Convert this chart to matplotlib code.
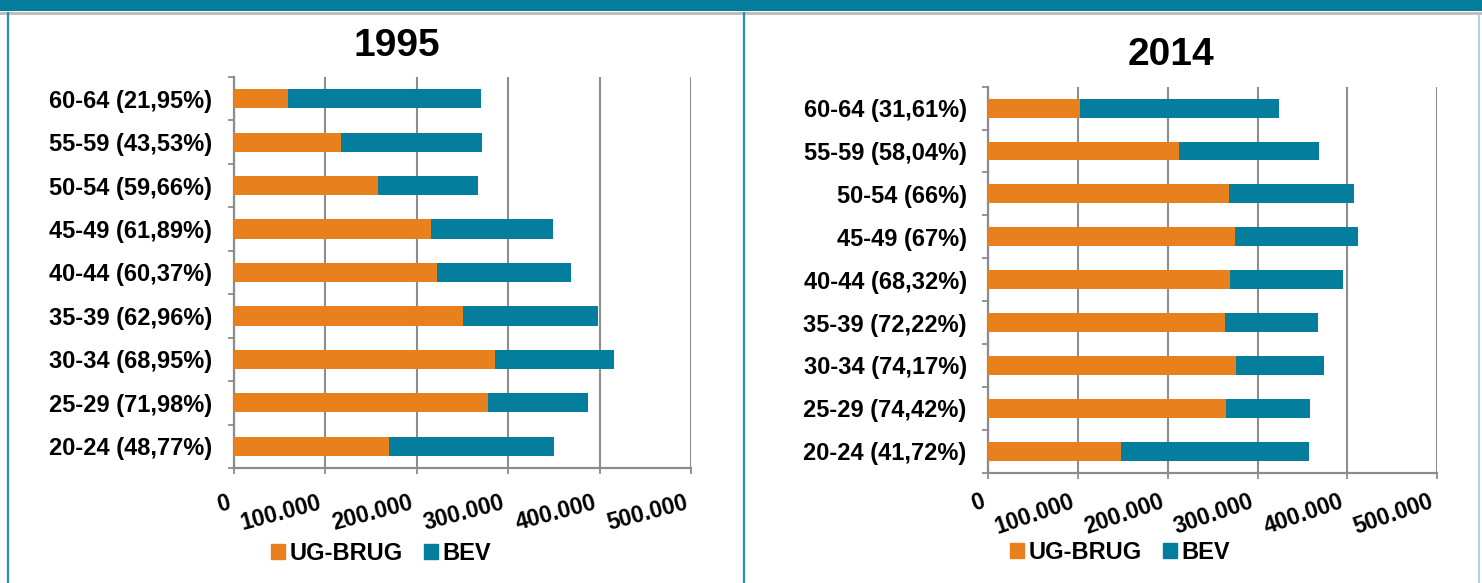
import matplotlib
matplotlib.use('Agg')
import numpy as np
import matplotlib.pyplot as plt
from matplotlib.patches import Rectangle, Patch
from matplotlib.lines import Line2D
from matplotlib.transforms import offset_copy

plt.rcParams['font.family'] = ['Liberation Sans', 'DejaVu Sans']
plt.rcParams['font.weight'] = 'bold'

# ---------------- data ----------------
age_groups = ['20-24', '25-29', '30-34', '35-39', '40-44', '45-49', '50-54', '55-59', '60-64']
pct_1995 = ['48,77%', '71,98%', '68,95%', '62,96%', '60,37%', '61,89%', '59,66%', '43,53%', '21,95%']
pct_2014 = ['41,72%', '74,42%', '74,17%', '72,22%', '68,32%', '67%', '66%', '58,04%', '31,61%']
ug_1995 = [170000, 278000, 285000, 250000, 222000, 215000, 158000, 117000, 59000]
bev_1995 = [180000, 109000, 130000, 148000, 147000, 134000, 109000, 154000, 211000]
ug_2014 = [148000, 265000, 276000, 264000, 269000, 275000, 268000, 213000, 102000]
bev_2014 = [209000, 93000, 98000, 103000, 126000, 137000, 140000, 156000, 222000]
x_ticks = [0, 100000, 200000, 300000, 400000, 500000]
x_tick_labels = ['0', '100.000', '200.000', '300.000', '400.000', '500.000']
series_names = ['UG-BRUG', 'BEV']
titles = ['1995', '2014']

ORANGE = '#E8801E'
TEAL = '#057E9E'
GRAY = '#8C8C8C'

W, H = 1482, 583
fig = plt.figure(figsize=(W / 100, H / 100), dpi=100)
fig.patch.set_facecolor('white')

# background frame
bg = fig.add_axes([0, 0, 1, 1], zorder=-10)
bg.set_xlim(0, W)
bg.set_ylim(H, 0)
bg.axis('off')
bg.add_patch(Rectangle((0, 0), W, 11, color=TEAL, lw=0))
bg.add_line(Line2D([0, W], [12.5, 12.5], color='#BBBBBB', lw=2))
bg.add_line(Line2D([8, 8], [13, H], color='#2A8DAA', lw=1.6))
bg.add_line(Line2D([743.5, 743.5], [13, H], color='#2A8DAA', lw=1.6))
bg.add_line(Line2D([1479, 1479], [13, H], color='#9FCBD8', lw=1.2))


def px2fig(x0, x1, ytop, ybot):
    return [x0 / W, 1 - ybot / H, (x1 - x0) / W, (ybot - ytop) / H]


def draw_panel(rect, labels, ug, bev, title, title_xy, rot, dx, dy, leg_xy):
    ax = fig.add_axes(px2fig(*rect))
    y = np.arange(len(labels))
    ax.barh(y, ug, height=0.44, color=ORANGE, lw=0, zorder=3)
    ax.barh(y, bev, left=ug, height=0.44, color=TEAL, lw=0, zorder=3)
    ax.set_xlim(0, 500000)
    ax.set_ylim(-0.5, len(labels) - 0.5)
    ax.set_yticks(y)
    ax.set_yticklabels(labels, fontsize=17, fontweight='bold', color='black')
    ax.set_yticks(np.arange(-0.5, len(labels), 1.0), minor=True)
    ax.tick_params(axis='y', which='major', length=0, pad=15.6)
    ax.tick_params(axis='y', which='minor', length=4.5, width=1.3, color=GRAY, direction='out')
    ax.set_xticks(x_ticks)
    ax.set_xticklabels([])
    ax.tick_params(axis='x', which='major', length=4.5, width=1.3, color=GRAY, direction='out')
    ax.grid(axis='x', color=GRAY, lw=1.5, zorder=0)
    ax.set_axisbelow(True)
    for s in ['top', 'right']:
        ax.spines[s].set_visible(False)
    for s in ['left', 'bottom']:
        ax.spines[s].set_color(GRAY)
        ax.spines[s].set_linewidth(1.6)
    tr = offset_copy(ax.get_xaxis_transform(), fig=fig, x=-dx * 0.72, y=-dy * 0.72, units='points')
    for v, lab in zip(x_ticks, x_tick_labels):
        ax.text(v, 0, lab, transform=tr, ha='right', va='top', rotation=rot,
                rotation_mode='anchor', fontsize=16.5, fontweight='bold', color='black')
    fig.text(title_xy[0] / W, 1 - title_xy[1] / H, title, ha='center', va='center',
             fontsize=28, fontweight='bold', color='black')
    handles = [Patch(color=ORANGE, label=series_names[0]), Patch(color=TEAL, label=series_names[1])]
    fig.legend(handles=handles, loc='center', bbox_to_anchor=(leg_xy[0] / W, 1 - leg_xy[1] / H),
               ncol=2, frameon=False, prop={'size': 17, 'weight': 'bold'},
               handlelength=0.6, handleheight=0.6, handletextpad=0.2,
               columnspacing=0.9, borderpad=0, borderaxespad=0)
    return ax


labels_1995 = [f'{a} ({p})' for a, p in zip(age_groups, pct_1995)]
labels_2014 = [f'{a} ({p})' for a, p in zip(age_groups, pct_2014)]

draw_panel((233.8, 691.3, 77, 468), labels_1995, ug_1995, bev_1995, titles[0], (397, 46),
           15, 7, 23, (381, 553.5))
draw_panel((988.3, 1437, 86.7, 472.7), labels_2014, ug_2014, bev_2014, titles[1], (1171, 55),
           19, 8, 17, (1120, 552.5))

fig.savefig('out.png', dpi=100)
